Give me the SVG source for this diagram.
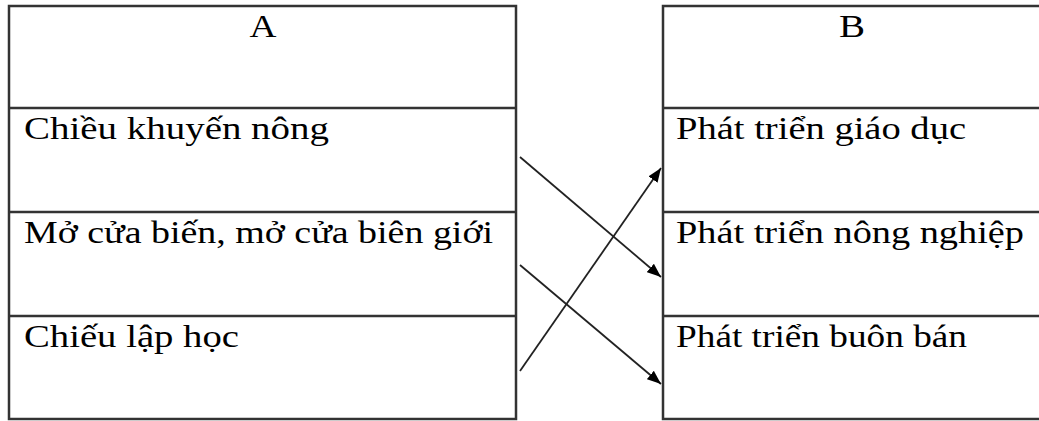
<svg xmlns="http://www.w3.org/2000/svg" width="1039" height="421" viewBox="0 0 1039 421">
<style>
.b{fill:#fff;stroke:#333;stroke-width:2.5}
.l{stroke:#333;stroke-width:2.5;fill:none}
text{font-family:"Liberation Serif","Times New Roman",serif;font-size:32px;fill:#000}
.c{stroke:#222;stroke-width:1.8;fill:none}
</style>
<defs>
<marker id="ah" viewBox="0 0 14 11" refX="14" refY="5.5" markerWidth="14" markerHeight="11" markerUnits="userSpaceOnUse" orient="auto">
<path d="M0,0 L14,5.5 L0,11 z" fill="#000"/>
</marker>
</defs>
<rect width="1039" height="421" fill="#fff"/>
<g id="tableA">
<rect class="b" x="9" y="6" width="507" height="413"/>
<line class="l" x1="9" y1="108" x2="516" y2="108"/>
<line class="l" x1="9" y1="212" x2="516" y2="212"/>
<line class="l" x1="9" y1="316" x2="516" y2="316"/>
<text x="263" y="37" text-anchor="middle" textLength="27" lengthAdjust="spacingAndGlyphs">A</text>
<text id="a1" x="24" y="139" textLength="305" lengthAdjust="spacingAndGlyphs">Chiều khuyến nông</text>
<text id="a2" x="24" y="243" textLength="469" lengthAdjust="spacingAndGlyphs">Mở cửa biến, mở cửa biên giới</text>
<text id="a3" x="24" y="347" textLength="215" lengthAdjust="spacingAndGlyphs">Chiếu lập học</text>
</g>
<g id="tableB">
<path class="l" d="M1045,6 L663,6 L663,419 L1045,419"/>
<line class="l" x1="663" y1="108" x2="1045" y2="108"/>
<line class="l" x1="663" y1="212" x2="1045" y2="212"/>
<line class="l" x1="663" y1="316" x2="1045" y2="316"/>
<text x="852" y="37" text-anchor="middle" textLength="26" lengthAdjust="spacingAndGlyphs">B</text>
<text id="b1" x="676" y="139" textLength="290" lengthAdjust="spacingAndGlyphs">Phát triển giáo dục</text>
<text id="b2" x="676" y="243" textLength="348" lengthAdjust="spacingAndGlyphs">Phát triển nông nghiệp</text>
<text id="b3" x="676" y="347" textLength="291" lengthAdjust="spacingAndGlyphs">Phát triển buôn bán</text>
</g>
<g id="connectors">
<line class="c" x1="520" y1="157" x2="661" y2="277" marker-end="url(#ah)"/>
<line class="c" x1="520" y1="265" x2="661" y2="384" marker-end="url(#ah)"/>
<line class="c" x1="520" y1="371" x2="661" y2="168" marker-end="url(#ah)"/>
</g>
</svg>
